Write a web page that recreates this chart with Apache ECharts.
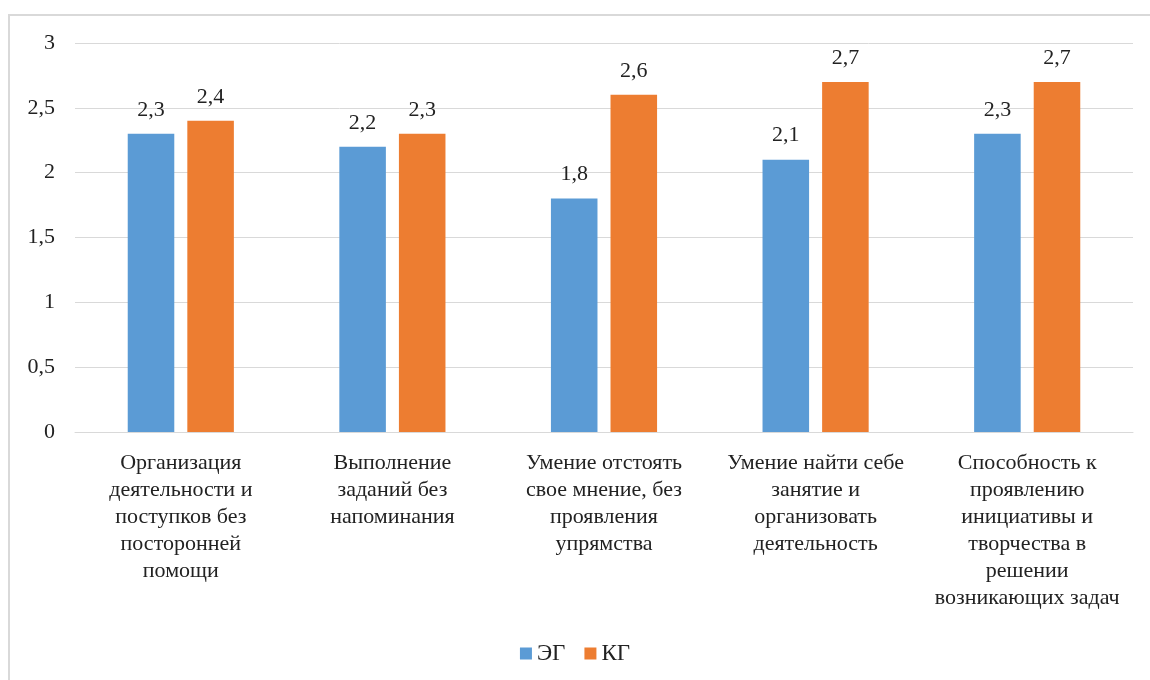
<!DOCTYPE html>
<html><head><meta charset="utf-8">
<script src="https://cdn.jsdelivr.net/npm/echarts@6/dist/echarts.min.js"></script>
<style>html,body{margin:0;padding:0;background:#fff}#c{width:1150px;height:680px}</style>
</head><body><div id="c"></div>
<script>
const categories = [
  'Организация\nдеятельности и\nпоступков без\nпосторонней\nпомощи',
  'Выполнение\nзаданий без\nнапоминания',
  'Умение отстоять\nсвое мнение, без\nпроявления\nупрямства',
  'Умение найти себе\nзанятие и\nорганизовать\nдеятельность',
  'Способность к\nпроявлению\nинициативы и\nтворчества в\nрешении\nвозникающих задач'
];
const seriesNames = ['ЭГ', 'КГ'];
const egValues = [2.3, 2.2, 1.8, 2.1, 2.3];
const kgValues = [2.4, 2.3, 2.6, 2.7, 2.7];
const yTicks = [0, 0.5, 1, 1.5, 2, 2.5, 3];

const fmt = v => String(v).replace('.', ',');
const font = "'Liberation Serif', 'Times New Roman', serif";
const chart = echarts.init(document.getElementById('c'));
chart.setOption({
  animation: false,
  textStyle: { fontFamily: font },
  graphic: [{
    type: 'rect', shape: { x: 9, y: 15, width: 1160, height: 700 },
    style: { fill: 'none', stroke: '#d9d9d9', lineWidth: 2 }, silent: true
  }],
  grid: { left: 75, right: 17, top: 43, bottom: 248 },
  legend: {
    top: 637, left: 'center', itemWidth: 12, itemHeight: 12, itemGap: 19,
    icon: 'rect', data: seriesNames,
    textStyle: { fontFamily: font, fontSize: 23, color: '#222' }
  },
  xAxis: {
    type: 'category', data: categories,
    axisLine: { lineStyle: { color: '#d9d9d9', width: 1 } },
    axisTick: { show: false },
    axisLabel: { interval: 0, margin: 18, fontFamily: font, fontSize: 22, lineHeight: 27, color: '#222' }
  },
  yAxis: {
    type: 'value', min: yTicks[0], max: yTicks[yTicks.length - 1], interval: 0.5,
    axisLine: { show: false }, axisTick: { show: false },
    splitLine: { lineStyle: { color: '#d9d9d9' } },
    axisLabel: { formatter: fmt, margin: 20, fontFamily: font, fontSize: 22, color: '#222' }
  },
  series: [
    { name: seriesNames[0], type: 'bar', data: egValues, barWidth: '22%', barGap: '28%',
      itemStyle: { color: '#5B9BD5' },
      label: { show: true, position: 'top', distance: 13, formatter: p => fmt(p.value), fontFamily: font, fontSize: 22, color: '#222' } },
    { name: seriesNames[1], type: 'bar', data: kgValues, barWidth: '22%',
      itemStyle: { color: '#ED7D31' },
      label: { show: true, position: 'top', distance: 13, formatter: p => fmt(p.value), fontFamily: font, fontSize: 22, color: '#222' } }
  ]
});
</script></body></html>
